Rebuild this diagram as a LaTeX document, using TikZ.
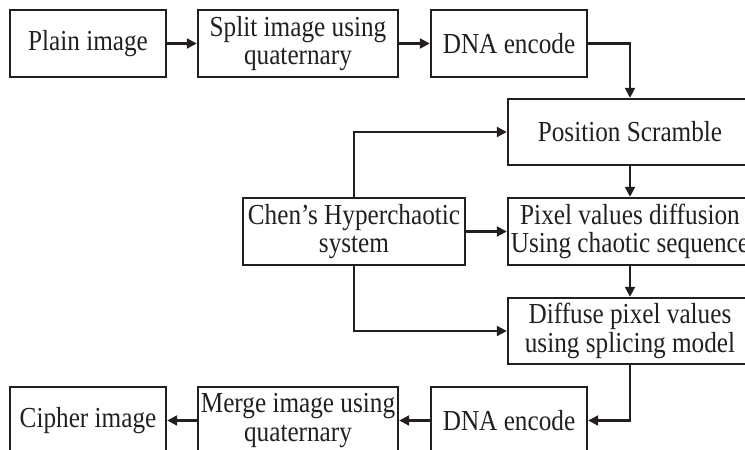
\documentclass[tikz,border=0pt]{standalone}
\usepackage{fontspec}
\setmainfont[FakeStretch=0.87]{Liberation Serif}
\usetikzlibrary{arrows.meta, positioning}
\definecolor{inkColor}{RGB}{35,31,32}

\tikzset{
  blockbox/.style={draw=inkColor, line width=2.4pt, text=inkColor, align=center,
    inner sep=0pt, minimum height=67pt,
    font=\fontsize{29}{28.5}\selectfont},
  flowarrow/.style={draw=inkColor, line width=2.2pt,
    -{Triangle[length=10pt, width=10pt]}}
}

\begin{document}
\begin{tikzpicture}[x=1pt, y=-1pt]

                % 1. MARCO (la figura queda recortada a la derecha y abajo)
                \clip (0,0) rectangle (745,450);

                % 2. FILA SUPERIOR
                \node[blockbox, minimum width=156pt] (plain) at (88,43.5) {Plain image};
                \node[blockbox, minimum width=200pt] (split) at (298,43.5) {Split image using\\quaternary};
                \node[blockbox, minimum width=156pt] (dnaA) at (509,43.5) {DNA encode};

                % 3. COLUMNA DERECHA
                \node[blockbox, minimum width=244pt, minimum height=66pt] (scramble) at (630,132) {Position Scramble};
                \node[blockbox, minimum width=244pt] (pixdiff) at (630,231.5) {Pixel values diffusion\\Using chaotic sequence};
                \node[blockbox, minimum width=244pt, minimum height=66pt] (splice) at (630,331) {Diffuse pixel values\\using splicing model};

                % 4. SISTEMA CAOTICO
                \node[blockbox, minimum width=222pt] (chen) at (354,231.5) {Chen's Hyperchaotic\\system};

                % 5. FILA INFERIOR
                \node[blockbox, minimum width=156pt] (dnaB) at (509,420.5) {DNA encode};
                \node[blockbox, minimum width=200pt] (merge) at (298,420.5) {Merge image using\\quaternary};
                \node[blockbox, minimum width=156pt] (cipher) at (88,420.5) {Cipher image};

                % 6. FLECHAS
                \draw[flowarrow] (plain) -- (split);
                \draw[flowarrow] (split) -- (dnaA);
                \draw[flowarrow] (dnaA.east) -| (scramble.north);
                \draw[flowarrow] (scramble) -- (pixdiff);
                \draw[flowarrow] (pixdiff) -- (splice);
                \draw[flowarrow] (chen.north) |- (scramble.west);
                \draw[flowarrow] (chen) -- (pixdiff);
                \draw[flowarrow] (chen.south) |- (splice.west);
                \draw[flowarrow] (splice.south) |- (dnaB.east);
                \draw[flowarrow] (dnaB) -- (merge);
                \draw[flowarrow] (merge) -- (cipher);

\end{tikzpicture}
\end{document}
